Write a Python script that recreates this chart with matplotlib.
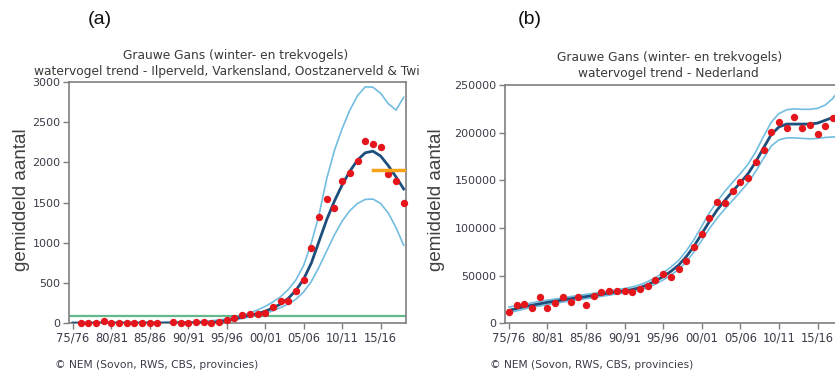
"""Grauwe Gans trend charts: (a) Ilperveld e.o. and (b) Nederland."""

import matplotlib

matplotlib.use("Agg")
import matplotlib.pyplot as plt
import numpy as np
from matplotlib.transforms import Bbox, TransformedBbox

nan = np.nan

# seasons 75/76 .. 18/19 -> index 0..43
SEASON_IDX = list(range(44))
TICK_POS = [0, 5, 10, 15, 20, 25, 30, 35, 40]
TICK_LABELS = ["75/76", "80/81", "85/86", "90/91", "95/96", "00/01", "05/06", "10/11", "15/16"]

# panel (a): Ilperveld, Varkensland, Oostzanerveld & Twiske
A_COUNTS = [nan, 5, 5, 5, 25, 5, 5, 5, 5, 5, 5, 5, nan, 20, 5, 5, 10, 20, 5, 20,
            45, 60, 100, 112, 112, 128, 203, 274, 274, 398, 535, 937, 1322, 1542,
            1434, 1766, 1870, 2015, 2264, 2235, 2193, 1853, 1766, 1496]
A_TREND = [2, 2, 2, 2, 3, 3, 3, 3, 3, 3, 3, 4, 4, 5, 5, 6, 7, 8, 10, 20,
           35, 55, 80, 100, 120, 150, 190, 240, 310, 410, 550, 750, 1020, 1290,
           1520, 1720, 1890, 2030, 2120, 2140, 2080, 1960, 1820, 1670]
A_UPPER = [10, 10, 10, 10, 10, 10, 10, 10, 10, 10, 10, 10, 10, 12, 14, 16, 20, 25, 32, 42,
           55, 75, 100, 130, 165, 210, 265, 330, 420, 540, 720, 1000, 1350, 1800,
           2150, 2420, 2650, 2830, 2940, 2935, 2860, 2730, 2650, 2810]
A_LOWER = [0, 0, 0, 0, 0, 0, 0, 0, 0, 0, 0, 0, 0, 1, 1, 2, 3, 5, 8, 15,
           25, 40, 60, 80, 100, 125, 155, 195, 240, 300, 390, 520, 700, 900,
           1100, 1270, 1400, 1490, 1540, 1545, 1490, 1370, 1190, 970]
A_THRESHOLD = 90          # green line
A_RECENT_MEAN = 1910      # orange line
A_RECENT_SPAN = [39, 43]

# panel (b): Nederland
B_COUNTS = [12170, 19200, 20250, 15700, 27900, 15700, 21000, 27900, 22000, 27300,
            19200, 28600, 32500, 33900, 33900, 33900, 32500, 35700, 39100, 45400,
            51700, 48900, 57000, 65400, 80400, 93700, 110100, 127600, 126500, 138800,
            148600, 152100, 169600, 182000, 201000, 211500, 204600, 216000, 204600, 208000,
            198500, 207000, 215100, 226000]
B_TREND = [13500, 15500, 17500, 19000, 20500, 22000, 23200, 24500, 25800, 27000,
           28000, 29200, 30500, 31800, 33000, 34000, 35500, 37500, 40500, 44500,
           49000, 54500, 61000, 70000, 81000, 94000, 107000, 119000, 129000, 138500,
           147500, 157000, 169500, 184000, 198000, 206000, 209000, 209000, 209000, 209000,
           210000, 213000, 216000, 219000]
B_UPPER = [17000, 18500, 20000, 21500, 23000, 24300, 25500, 26700, 28000, 29200,
           30300, 31500, 32800, 34000, 35300, 36500, 38200, 40500, 43800, 48000,
           53000, 59000, 66000, 76000, 88000, 102000, 116000, 128000, 138500, 148000,
           157000, 167000, 180000, 196000, 211000, 220000, 224000, 225000, 224500, 224500,
           225500, 229000, 236000, 247000]
B_LOWER = [11000, 13000, 15000, 16700, 18200, 19700, 21000, 22300, 23600, 24800,
           25800, 27000, 28300, 29600, 30800, 31800, 33000, 34800, 37500, 41200,
           45500, 50500, 56500, 64500, 75000, 87000, 99500, 110500, 120000, 129000,
           138000, 147500, 159500, 173000, 186000, 192500, 194500, 194500, 194000, 193500,
           194000, 195000, 195500, 196000]

RED = "#e4161c"
DARK_BLUE = "#1d4f7c"
LIGHT_BLUE = "#72bde0"
GREEN = "#63b98c"
ORANGE = "#f7a21b"
GREY_TEXT = "#3b3b4a"
SPINE = "#7f7f7f"

W, H = 835, 374


def fx(px):
    return px / W


def fy(py):
    return 1 - py / H


def style_axes(ax, ylim, yticks):
    ax.set_xlim(-0.5, 43.3)
    ax.set_ylim(*ylim)
    ax.set_xticks(TICK_POS)
    ax.set_xticklabels(TICK_LABELS)
    ax.set_yticks(yticks)
    ax.tick_params(axis="both", direction="out", length=4, width=1, color=SPINE,
                   labelsize=8, labelcolor=GREY_TEXT, pad=2)
    ax.tick_params(axis="x", labelsize=8.3)
    for spine in ax.spines.values():
        spine.set_color(SPINE)
        spine.set_linewidth(1.2)
    for lab in ax.get_xticklabels() + ax.get_yticklabels():
        lab.set_family("DejaVu Sans")


def draw_series(ax, counts, trend, upper, lower):
    ax.plot(SEASON_IDX, upper, color=LIGHT_BLUE, lw=1.2, zorder=2)
    ax.plot(SEASON_IDX, lower, color=LIGHT_BLUE, lw=1.2, zorder=2)
    ax.plot(SEASON_IDX, trend, color=DARK_BLUE, lw=2.0, zorder=3)
    ax.plot(SEASON_IDX, counts, "o", color=RED, ms=5.3, mec="none", zorder=4, clip_on=False)


def main():
    plt.rcParams["font.family"] = ["DejaVu Sans"]
    fig = plt.figure(figsize=(W / 100, H / 100), dpi=100)

    # panel (a)
    ax_a = fig.add_axes([fx(69), fy(323.3), fx(406 - 69), (323.3 - 82) / H])
    style_axes(ax_a, (0, 3000), list(range(0, 3001, 500)))
    ax_a.axhline(A_THRESHOLD, color=GREEN, lw=1.6, zorder=1)
    draw_series(ax_a, A_COUNTS, A_TREND, A_UPPER, A_LOWER)
    ax_a.plot(A_RECENT_SPAN, [A_RECENT_MEAN, A_RECENT_MEAN], color=ORANGE, lw=2.5, zorder=5)

    # panel (b), right side cut off by the picture edge
    ax_b = fig.add_axes([fx(505), fy(323.3), fx(338), (323.3 - 85) / H])
    style_axes(ax_b, (0, 250000), list(range(0, 250001, 50000)))
    draw_series(ax_b, B_COUNTS, B_TREND, B_UPPER, B_LOWER)

    # titles
    clip_a = TransformedBbox(Bbox([[0, 0], [fx(420), 1]]), fig.transFigure)
    for text, x, y, clip in (
        ("Grauwe Gans (winter- en trekvogels)", 236, 56, clip_a),
        ("watervogel trend - Ilperveld, Varkensland, Oostzanerveld & Twiske", 237, 72, clip_a),
        ("Grauwe Gans (winter- en trekvogels)", 670, 57, None),
        ("watervogel trend - Nederland", 668, 73, None),
    ):
        t = fig.text(fx(x), fy(y), text, ha="center", va="center", fontsize=8.8,
                     color="#3a3a3a", family="DejaVu Sans")
        if clip is not None:
            t.set_clip_on(True)
            t.set_clip_box(clip)

    for label, x in (("(a)", 100), ("(b)", 530)):
        fig.text(fx(x), fy(20), label, ha="center", va="center", fontsize=14,
                 family="Liberation Sans", color="#111111")

    for x in (22, 437):
        fig.text(fx(x), fy(200), "gemiddeld aantal", rotation=90, ha="center", va="center",
                 fontsize=13.5, family="Liberation Sans", color="#404040")

    for x in (55, 490):
        fig.text(fx(x), fy(365), "\u00a9 NEM (Sovon, RWS, CBS, provincies)", ha="left",
                 va="center", fontsize=7.7, family="DejaVu Sans", color=GREY_TEXT)

    fig.savefig("out.png", dpi=100)
    plt.close(fig)


if __name__ == "__main__":
    main()
